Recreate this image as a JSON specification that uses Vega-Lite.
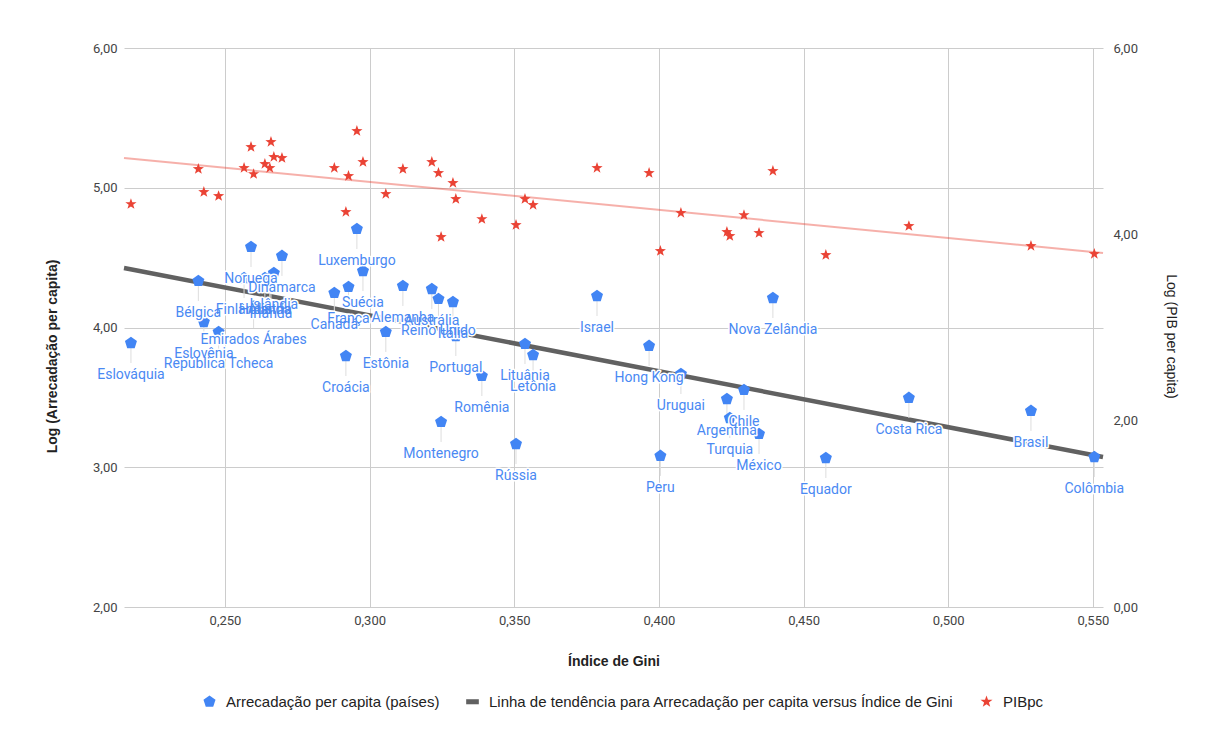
{
  "$schema": "https://vega.github.io/schema/vega-lite/v6.json",
  "width": 979,
  "height": 559,
  "autosize": {"type": "none"},
  "padding": {"left": 124, "top": 48, "right": 110, "bottom": 138},
  "background": "white",
  "config": {
    "font": "Roboto",
    "view": {"stroke": null},
    "legend": {
      "orient": "none",
      "legendX": 78,
      "legendY": 646,
      "direction": "horizontal",
      "columns": 3,
      "labelFont": "Liberation Sans",
      "labelFontSize": 15,
      "labelColor": "#222222",
      "labelLimit": 0,
      "symbolSize": 160,
      "symbolStrokeWidth": 0,
      "columnPadding": 25,
      "labelOffset": 9,
      "title": null
    }
  },
  "datasets": {
    "paises": [
      {"pais": "Eslováquia", "gini": 0.2175, "arrec": 3.889, "pib": 4.325},
      {"pais": "Bélgica", "gini": 0.2408, "arrec": 4.333, "pib": 4.701},
      {"pais": "Eslovênia", "gini": 0.2427, "arrec": 4.039, "pib": 4.454},
      {"pais": "República Tcheca", "gini": 0.2478, "arrec": 3.968, "pib": 4.411},
      {"pais": "Finlândia", "gini": 0.2566, "arrec": 4.354, "pib": 4.712},
      {"pais": "Noruega", "gini": 0.2590, "arrec": 4.576, "pib": 4.937},
      {"pais": "Emirados Árabes", "gini": 0.2599, "arrec": 4.140, "pib": 4.647},
      {"pais": "Holanda", "gini": 0.2638, "arrec": 4.354, "pib": 4.755},
      {"pais": "Irlanda", "gini": 0.2659, "arrec": 4.326, "pib": 4.991},
      {"pais": "Islândia", "gini": 0.2669, "arrec": 4.390, "pib": 4.830},
      {"pais": "Áustria", "gini": 0.2655, "arrec": 4.354, "pib": 4.712},
      {"pais": "Dinamarca", "gini": 0.2697, "arrec": 4.512, "pib": 4.819},
      {"pais": "Canadá", "gini": 0.2878, "arrec": 4.247, "pib": 4.712},
      {"pais": "Croácia", "gini": 0.2918, "arrec": 3.796, "pib": 4.240},
      {"pais": "França", "gini": 0.2927, "arrec": 4.290, "pib": 4.626},
      {"pais": "Luxemburgo", "gini": 0.2956, "arrec": 4.705, "pib": 5.109},
      {"pais": "Suécia", "gini": 0.2977, "arrec": 4.404, "pib": 4.776},
      {"pais": "Estônia", "gini": 0.3056, "arrec": 3.968, "pib": 4.433},
      {"pais": "Alemanha", "gini": 0.3115, "arrec": 4.297, "pib": 4.701},
      {"pais": "Austrália", "gini": 0.3215, "arrec": 4.275, "pib": 4.776},
      {"pais": "Reino Unido", "gini": 0.3238, "arrec": 4.204, "pib": 4.658},
      {"pais": "Montenegro", "gini": 0.3247, "arrec": 3.324, "pib": 3.971},
      {"pais": "Itália", "gini": 0.3288, "arrec": 4.182, "pib": 4.551},
      {"pais": "Portugal", "gini": 0.3298, "arrec": 3.939, "pib": 4.379},
      {"pais": "Romênia", "gini": 0.3388, "arrec": 3.653, "pib": 4.164},
      {"pais": "Rússia", "gini": 0.3506, "arrec": 3.166, "pib": 4.100},
      {"pais": "Lituânia", "gini": 0.3537, "arrec": 3.882, "pib": 4.379},
      {"pais": "Letônia", "gini": 0.3565, "arrec": 3.803, "pib": 4.315},
      {"pais": "Israel", "gini": 0.3786, "arrec": 4.225, "pib": 4.712},
      {"pais": "Hong Kong", "gini": 0.3966, "arrec": 3.868, "pib": 4.658},
      {"pais": "Peru", "gini": 0.4005, "arrec": 3.081, "pib": 3.821},
      {"pais": "Uruguai", "gini": 0.4076, "arrec": 3.667, "pib": 4.229},
      {"pais": "Argentina", "gini": 0.4235, "arrec": 3.488, "pib": 4.025},
      {"pais": "Turquia", "gini": 0.4245, "arrec": 3.352, "pib": 3.982},
      {"pais": "Chile", "gini": 0.4294, "arrec": 3.553, "pib": 4.207},
      {"pais": "México", "gini": 0.4346, "arrec": 3.238, "pib": 4.014},
      {"pais": "Nova Zelândia", "gini": 0.4394, "arrec": 4.211, "pib": 4.680},
      {"pais": "Equador", "gini": 0.4577, "arrec": 3.066, "pib": 3.778},
      {"pais": "Costa Rica", "gini": 0.4864, "arrec": 3.496, "pib": 4.089},
      {"pais": "Brasil", "gini": 0.5286, "arrec": 3.403, "pib": 3.875},
      {"pais": "Colômbia", "gini": 0.5505, "arrec": 3.073, "pib": 3.789}
    ],
    "tendencia": [
      {"gini": 0.2151, "arrec": 4.426, "pib": 4.819},
      {"gini": 0.5535, "arrec": 3.073, "pib": 3.800}
    ]
  },
  "encoding": {
    "x": {
      "field": "gini",
      "type": "quantitative",
      "scale": {"domain": [0.2151, 0.5535], "nice": false, "zero": false},
      "axis": {
        "values": [0.25, 0.3, 0.35, 0.4, 0.45, 0.5, 0.55],
        "labelExpr": "replace(format(datum.value, '.3f'), '.', ',')",
        "title": "Índice de Gini",
        "titleFont": "Liberation Sans",
        "titleFontSize": 14,
        "titleFontWeight": "bold",
        "titleColor": "#222222",
        "titleY": 54,
        "titleBaseline": "middle",
        "labelFont": "Roboto",
        "labelFontSize": 13,
        "labelColor": "#444444",
        "labelPadding": 7,
        "grid": true,
        "gridColor": "#cccccc",
        "domain": false,
        "ticks": false
      }
    }
  },
  "layer": [
    {
      "data": {"name": "paises"},
      "encoding": {
        "y": {
          "field": "arrec",
          "type": "quantitative",
          "scale": {"domain": [2, 6], "nice": false, "zero": false},
          "axis": {
            "orient": "left",
            "values": [2, 3, 4, 5, 6],
            "labelExpr": "replace(format(datum.value, '.2f'), '.', ',')",
            "title": "Log (Arrecadação per capita)",
            "titleFont": "Liberation Sans",
            "titleFontSize": 14,
            "titleFontWeight": "bold",
            "titleColor": "#222222",
            "titleX": -72,
            "titleY": 308,
            "titleBaseline": "middle",
            "labelFont": "Roboto",
            "labelFontSize": 13,
            "labelColor": "#444444",
            "labelPadding": 7,
            "grid": true,
            "gridColor": "#cccccc",
            "domain": false,
            "ticks": false
          }
        }
      },
      "layer": [
        {
          "data": {"name": "tendencia"},
          "mark": {"type": "line", "color": "#616161", "strokeWidth": 4.5},
          "encoding": {}
        },
        {
          "mark": {"type": "rule", "color": "#dddddd", "strokeWidth": 1, "y2Offset": 20},
          "encoding": {"y2": {"field": "arrec"}}
        },
        {
          "mark": {"type": "point", "filled": true, "opacity": 1, "size": 160, "strokeWidth": 0},
          "encoding": {
            "color": {
              "datum": "Arrecadação per capita (países)",
              "type": "nominal",
              "scale": {
                "domain": ["Arrecadação per capita (países)", "Linha de tendência para Arrecadação per capita versus Índice de Gini", "PIBpc"],
                "range": ["#4285f4", "#616161", "#ea4335"]
              },
              "legend": {"title": null}
            },
            "shape": {
              "datum": "Arrecadação per capita (países)",
              "type": "nominal",
              "scale": {
                "domain": ["Arrecadação per capita (países)", "Linha de tendência para Arrecadação per capita versus Índice de Gini", "PIBpc"],
                "range": [
                  "M0,-1L0.951,-0.309L0.588,0.809L-0.588,0.809L-0.951,-0.309Z",
                  "M-1,-0.4L1,-0.4L1,0.4L-1,0.4Z",
                  "M0,-1L0.235,-0.324L0.951,-0.309L0.38,0.124L0.588,0.809L0,0.4L-0.588,0.809L-0.38,0.124L-0.951,-0.309L-0.235,-0.324Z"
                ]
              },
              "legend": {"title": null}
            }
          }
        },
        {
          "mark": {"type": "text", "dy": 32, "baseline": "middle", "align": "center", "font": "Roboto", "fontSize": 14, "fill": "white", "stroke": "white", "strokeWidth": 3, "strokeJoin": "round"},
          "encoding": {"text": {"field": "pais"}}
        },
        {
          "mark": {"type": "text", "dy": 32, "baseline": "middle", "align": "center", "font": "Roboto", "fontSize": 14, "color": "#4a89f3"},
          "encoding": {"text": {"field": "pais"}}
        }
      ]
    },
    {
      "encoding": {
        "y": {
          "field": "pib",
          "type": "quantitative",
          "scale": {"domain": [0, 6], "nice": false, "zero": false},
          "axis": {
            "orient": "right",
            "values": [0, 2, 4, 6],
            "labelExpr": "replace(format(datum.value, '.2f'), '.', ',')",
            "title": "Log (PIB per capita)",
            "titleFont": "Liberation Sans",
            "titleFontSize": 14,
            "titleFontWeight": "normal",
            "titleColor": "#222222",
            "titleX": 67,
            "titleY": 288,
            "titleBaseline": "middle",
            "labelFont": "Roboto",
            "labelFontSize": 13,
            "labelColor": "#444444",
            "labelPadding": 10,
            "grid": false,
            "domain": false,
            "ticks": false
          }
        }
      },
      "layer": [
        {
          "data": {"name": "tendencia"},
          "mark": {"type": "line", "color": "#ea4335", "opacity": 0.42, "strokeWidth": 2},
          "encoding": {}
        },
        {
          "data": {"name": "paises"},
          "mark": {"type": "point", "filled": true, "opacity": 1, "size": 140, "strokeWidth": 0},
          "encoding": {
            "color": {
              "datum": "PIBpc",
              "type": "nominal",
              "scale": {
                "domain": ["Arrecadação per capita (países)", "Linha de tendência para Arrecadação per capita versus Índice de Gini", "PIBpc"],
                "range": ["#4285f4", "#616161", "#ea4335"]
              },
              "legend": {"title": null}
            },
            "shape": {
              "datum": "PIBpc",
              "type": "nominal",
              "scale": {
                "domain": ["Arrecadação per capita (países)", "Linha de tendência para Arrecadação per capita versus Índice de Gini", "PIBpc"],
                "range": [
                  "M0,-1L0.951,-0.309L0.588,0.809L-0.588,0.809L-0.951,-0.309Z",
                  "M-1,-0.4L1,-0.4L1,0.4L-1,0.4Z",
                  "M0,-1L0.235,-0.324L0.951,-0.309L0.38,0.124L0.588,0.809L0,0.4L-0.588,0.809L-0.38,0.124L-0.951,-0.309L-0.235,-0.324Z"
                ]
              },
              "legend": {"title": null}
            }
          }
        }
      ]
    }
  ],
  "resolve": {"scale": {"y": "independent"}}
}
